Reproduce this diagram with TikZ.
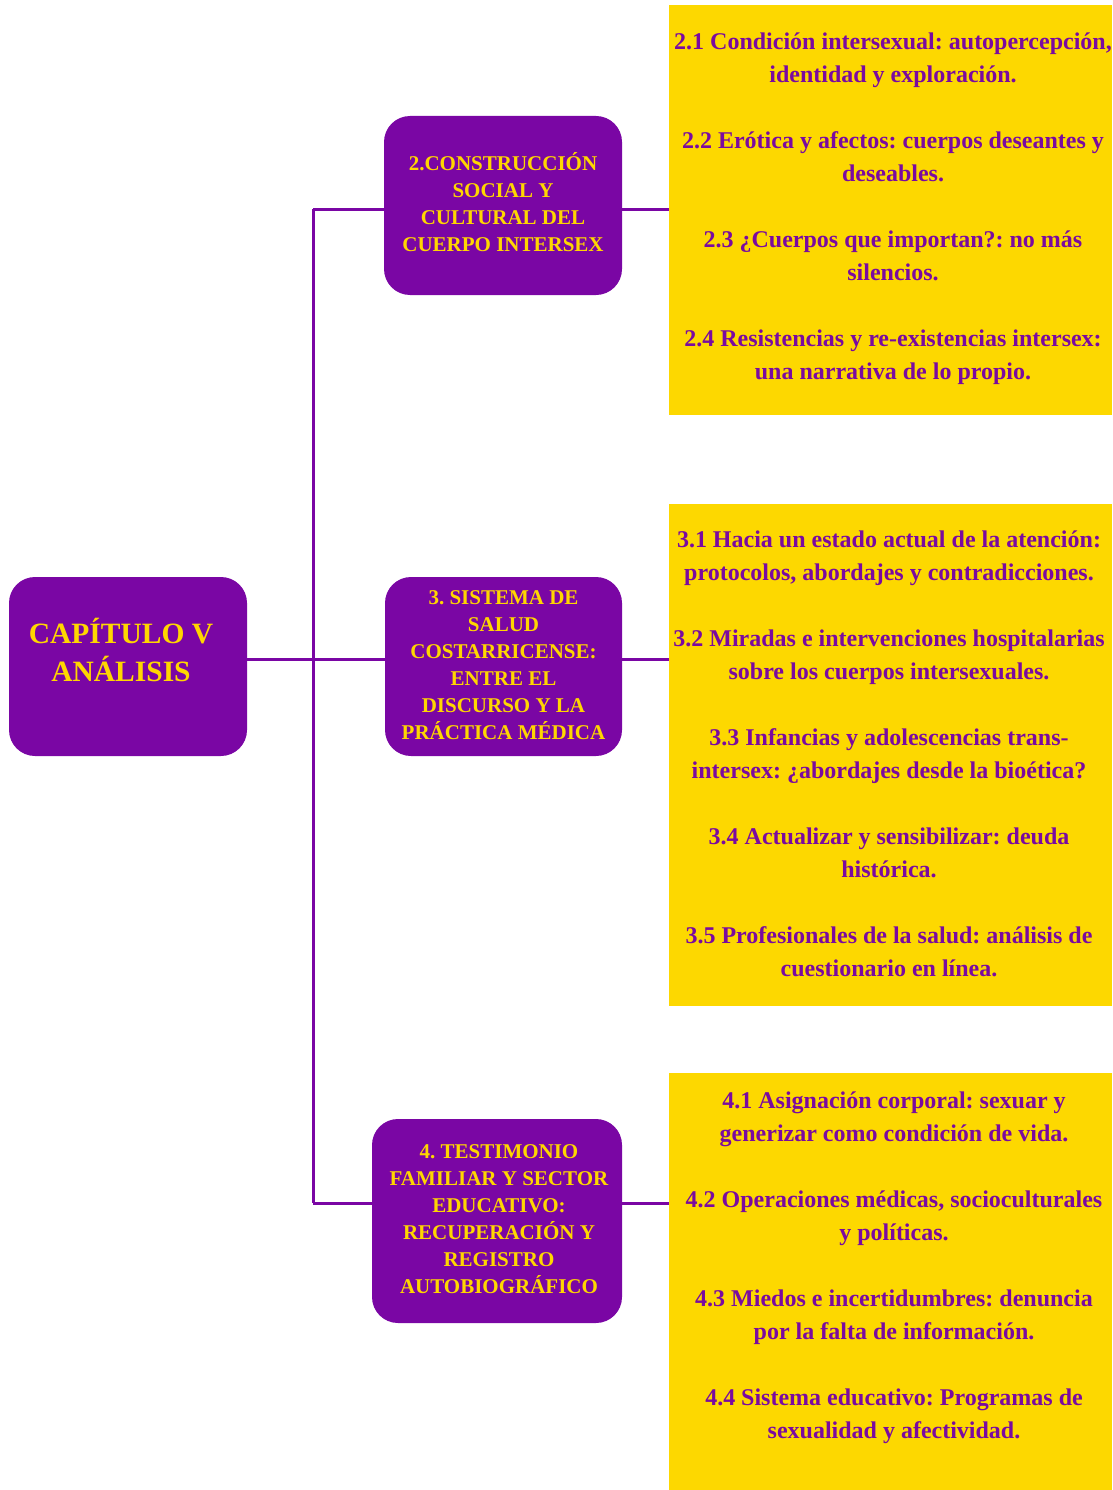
\documentclass[tikz,border=0pt]{standalone}
\usepackage{fontspec}
\setmainfont{Liberation Serif}
\frenchspacing
\definecolor{pur}{RGB}{122,6,164}
\definecolor{yel}{RGB}{253,216,0}
\definecolor{gold}{RGB}{255,214,0}
\definecolor{ptext}{RGB}{122,10,160}
\tikzset{
  pbox/.style={fill=pur, draw=none, rounded corners=26pt, inner sep=0pt},
  ybox/.style={fill=yel, draw=none, inner sep=0pt},
  ptxt/.style={text=gold, align=center, inner sep=0pt, font=\bfseries\fontsize{21}{27}\selectfont},
  rtxt/.style={text=gold, align=center, inner sep=0pt, font=\bfseries\fontsize{29.5}{38}\selectfont},
  ytxt/.style={text=ptext, align=center, inner sep=0pt, font=\bfseries\fontsize{24}{33}\selectfont},
  conn/.style={draw=pur, line width=3pt},
}
\begin{document}
\begin{tikzpicture}[x=1pt,y=-1pt]
\useasboundingbox (0,0) rectangle (1112,1490);
% yellow boxes
\node[ybox, minimum width=443, minimum height=410] (y2) at (890.5,210) {};
\node[ybox, minimum width=443, minimum height=502] (y3) at (890.5,755) {};
\node[ybox, minimum width=443, minimum height=417] (y4) at (890.5,1281.5) {};
% purple boxes
\node[pbox, minimum width=238, minimum height=179] (root) at (128,666.5) {};
\node[pbox, minimum width=238, minimum height=179] (c2) at (503,205.5) {};
\node[pbox, minimum width=237, minimum height=179] (c3) at (503.5,666.5) {};
\node[pbox, minimum width=250, minimum height=204] (c4) at (497,1221) {};
% texts
\node[rtxt] (rt) at (121,650) {CAPÍTULO V\\ANÁLISIS};
\node[ptxt] (t2) at (503,202.5) {2.CONSTRUCCIÓN\\SOCIAL Y\\CULTURAL DEL\\CUERPO INTERSEX};
\node[ptxt] (t3) at (503.5,665) {3. SISTEMA DE\\SALUD\\COSTARRICENSE:\\ENTRE EL\\DISCURSO Y LA\\PRÁCTICA MÉDICA};
\node[ptxt] (t4) at (499,1219) {4. TESTIMONIO\\FAMILIAR Y SECTOR\\EDUCATIVO:\\RECUPERACIÓN Y\\REGISTRO\\AUTOBIOGRÁFICO};
\node[ytxt] (s2) at (893,209) {2.1 Condición intersexual: autopercepción,\\identidad y exploración.\\[33pt]2.2 Erótica y afectos: cuerpos deseantes y\\deseables.\\[33pt]2.3 ¿Cuerpos que importan?: no más\\silencios.\\[33pt]2.4 Resistencias y re-existencias intersex:\\una narrativa de lo propio.};
\node[ytxt] (s3) at (889,754) {3.1 Hacia un estado actual de la atención:\\protocolos, abordajes y contradicciones.\\[33pt]3.2 Miradas e intervenciones hospitalarias\\sobre los cuerpos intersexuales.\\[33pt]3.3 Infancias y adolescencias trans-\\intersex: ¿abordajes desde la bioética?\\[33pt]3.4 Actualizar y sensibilizar: deuda\\histórica.\\[33pt]3.5 Profesionales de la salud: análisis de\\cuestionario en línea.};
\node[ytxt] (s4) at (894,1268) {4.1 Asignación corporal: sexuar y\\generizar como condición de vida.\\[33pt]4.2 Operaciones médicas, socioculturales\\y políticas.\\[33pt]4.3 Miedos e incertidumbres: denuncia\\por la falta de información.\\[33pt]4.4 Sistema educativo: Programas de\\sexualidad y afectividad.};
% connectors
\coordinate (j2) at (313,209);
\coordinate (j3) at (313,659);
\coordinate (j4) at (313,1203);
\draw[conn] (root.east |- j3) -- (j3) -- (c3.west |- j3);
\draw[conn] (j2) -- (j4);
\draw[conn] (j2) -- (c2.west |- j2);
\draw[conn] (j4) -- (c4.west |- j4);
\draw[conn] (c2.east |- j2) -- (y2.west |- j2);
\draw[conn] (c3.east |- j3) -- (y3.west |- j3);
\draw[conn] (c4.east |- j4) -- (y4.west |- j4);
\end{tikzpicture}
\end{document}
